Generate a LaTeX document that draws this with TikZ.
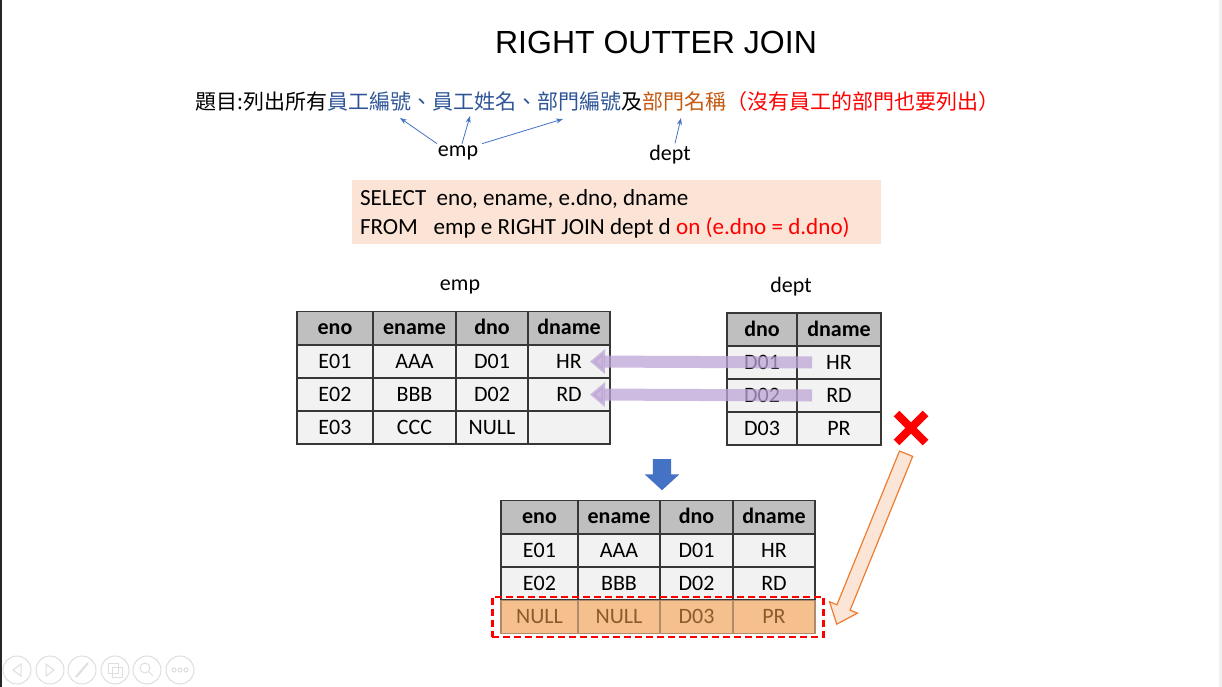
\documentclass[tikz,border=0pt]{standalone}
\usepackage{fontspec}
\setmainfont{Carlito}
\newfontfamily\titlefont{Liberation Sans}
\newfontfamily\cjk{Noto Sans CJK TC}
\usetikzlibrary{arrows.meta,shapes.arrows,shapes.misc,fit}
\definecolor{hdgray}{RGB}{191,191,191}
\definecolor{cellgray}{RGB}{242,242,242}
\definecolor{gridline}{RGB}{55,55,55}
\definecolor{wordblue}{RGB}{47,85,151}
\definecolor{wordorange}{RGB}{197,90,17}
\definecolor{arrowblue}{RGB}{68,114,196}
\definecolor{sqlpink}{RGB}{251,228,213}
\definecolor{joinpurple}{RGB}{190,165,215}
\definecolor{nullorange}{RGB}{246,192,142}
\definecolor{nulltext}{RGB}{140,90,45}
\definecolor{hintorange}{RGB}{237,125,49}
\definecolor{hintpeach}{RGB}{251,229,214}
\definecolor{ctrlgray}{RGB}{222,222,222}

\begin{document}
\begin{tikzpicture}[x=1pt,y=-1pt,
  cell/.style={draw=gridline,line width=1.3pt,fill=cellgray,minimum height=33pt,inner sep=0pt,
    text height=13.5pt,text depth=0pt,font=\fontsize{22}{24}\selectfont},
  head/.style={cell,fill=hdgray,font=\fontsize{22}{24}\selectfont\bfseries},
  nullcell/.style={cell,fill=nullorange,draw=nulltext!70,text=nulltext},
  tbltitle/.style={font=\fontsize{22}{24}\selectfont,inner sep=2pt},
  pointer/.style={arrowblue,line width=.8pt,-{Stealth[length=7pt,width=5pt]}},
  joinarrow/.style={joinpurple,opacity=.75,line width=12pt,-{Triangle[length=15pt,width=24pt]}},
  ctrl/.style={ctrlgray,line width=1pt},
]
\useasboundingbox (0,0) rectangle (1222,687);
\fill[white] (0,0) rectangle (1222,687);
\fill[black!85] (0,0) rectangle (1.5,687);
\fill[black!6] (1219,0) rectangle (1222,687);

\node[font=\titlefont\fontsize{32}{36}\selectfont] (title) at (656,42) {RIGHT OUTTER JOIN};
\node[font=\cjk\fontsize{21}{24}\selectfont,anchor=west,inner sep=0pt] (task) at (195,102)
  {題目:列出所有\textcolor{wordblue}{員工編號、員工姓名、部門編號}及\textcolor{wordorange}{部門名稱}\textcolor{red}{（沒有員工的部門也要列出）}};

\node[tbltitle] (emp-hint) at (458,153) {emp};
\node[tbltitle] (dept-hint) at (670,155) {dept};
\foreach \n/\x/\y in {w1/400/118, w2/470/116, w3/563/119, w4/681/118}
  \coordinate (\n) at (\x,\y);
\foreach \dx/\n in {-21/w1, 4/w2, 24/w3}
  \draw[pointer] ([xshift=\dx pt]emp-hint.north) -- (\n);
\draw[pointer] ([xshift=5pt]dept-hint.north) -- (w4);

\node[fill=sqlpink,minimum width=529pt,minimum height=64pt] (sql) at (616.5,212) {};
\node[anchor=west,align=left,inner sep=0pt,font=\fontsize{23.1}{29}\selectfont] (sql-text)
  at ([xshift=8pt,yshift=-2pt]sql.west)
  {SELECT\ \ eno, ename, e.dno, dname\\FROM\ \ \ emp e RIGHT JOIN dept d \textcolor{red}{on (e.dno = d.dno)}};

\node[tbltitle] (emp-title) at (460,287) {emp};
\node[tbltitle] (dept-title) at (791,287) {dept};

\foreach \x/\w/\h/\a/\b/\cc [count=\c] in {335/76/eno/E01/E02/E03, 414.5/83/ename/AAA/BBB/CCC,
    492/72/dno/D01/D02/NULL, 569/82/dname/HR/RD/{}}
{
    \node[head,minimum width=\w pt] (emp-0-\c) at (\x,328) {\h};
    \node[cell,minimum width=\w pt] (emp-1-\c) at (\x,361.5) {\a};
    \node[cell,minimum width=\w pt] (emp-2-\c) at (\x,394.5) {\b};
    \node[cell,minimum width=\w pt] (emp-3-\c) at (\x,427.5) {\cc};
}
\foreach \x/\w/\h/\a/\b/\cc [count=\c] in {762/70/dno/D01/D02/D03, 839/84/dname/HR/RD/PR}
{
    \node[head,minimum width=\w pt] (dept-0-\c) at (\x,329.5) {\h};
    \node[cell,minimum width=\w pt] (dept-1-\c) at (\x,362.5) {\a};
    \node[cell,minimum width=\w pt] (dept-2-\c) at (\x,395.5) {\b};
    \node[cell,minimum width=\w pt] (dept-3-\c) at (\x,428.5) {\cc};
}
\foreach \r in {1,2}
  \draw[joinarrow] ([xshift=-27pt]dept-\r-2.center) -- ([xshift=21pt]emp-\r-4.center);

\node[cross out,draw=red,line width=8pt,minimum size=21pt,inner sep=0pt] (xmark) at (911,428) {};
\node[single arrow,fill=arrowblue,rotate=-90,minimum height=31pt,minimum width=34pt,
  single arrow head extend=8pt,single arrow tip angle=95,inner xsep=0pt,inner ysep=9pt] (down) at (662,470.5) {};

\foreach \x/\w/\h/\a/\b/\cc [count=\c] in {539.5/77/eno/E01/E02/NULL, 619/82/ename/AAA/BBB/NULL,
    696.5/73/dno/D01/D02/D03, 774/82/dname/HR/RD/PR}
{
    \node[head,minimum width=\w pt] (res-0-\c) at (\x,517) {\h};
    \node[cell,minimum width=\w pt] (res-1-\c) at (\x,550.5) {\a};
    \node[cell,minimum width=\w pt] (res-2-\c) at (\x,583.5) {\b};
    \node[nullcell,minimum width=\w pt] (res-3-\c) at (\x,617) {\cc};
}
\node[draw=red,line width=2.5pt,dash pattern=on 7pt off 4pt,fit=(res-3-1)(res-3-4),
  inner xsep=8pt,inner ysep=3pt] (newrow) {};

\coordinate (miss-tail) at (908,449);
\coordinate (miss-tip) at (838,621);
\path (miss-tail) -- node[sloped,allow upside down,single arrow,draw=hintorange,fill=hintpeach,
  line width=1.2pt,minimum height=184pt,minimum width=29pt,single arrow head extend=8pt,
  single arrow tip angle=80,inner xsep=0pt,inner ysep=6.5pt] (miss) {} (miss-tip);

\foreach \x in {17,50,82,115,147,180}
  \draw[ctrl] (\x,670) circle[radius=14pt];
\draw[ctrl] (21,664) -- (13,670) -- (21,676) -- cycle;
\draw[ctrl] (46,664) -- (54,670) -- (46,676) -- cycle;
\draw[ctrl,line width=2pt] (76,677) -- (88,663);
\draw[ctrl] (108,663) rectangle (118,673) (112,667) rectangle (122,677);
\draw[ctrl] (145,668) circle[radius=5pt] (149,672) -- (153,676);
\foreach \x in {174,180,186}
  \draw[ctrl] (\x,670) circle[radius=2pt];
\end{tikzpicture}
\end{document}
